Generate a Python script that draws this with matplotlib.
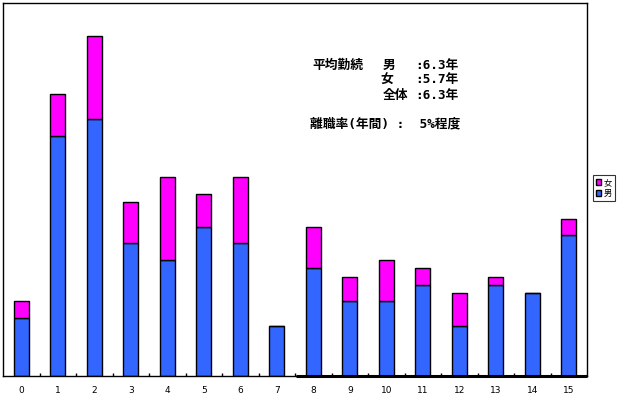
import numpy as np
import matplotlib
matplotlib.use("Agg")
import matplotlib.pyplot as plt
from matplotlib.ticker import FixedLocator

plt.rcParams['font.family'] = ['Noto Sans CJK JP', 'DejaVu Sans']

# 勤続年数ごとの人数
years = list(range(16))
male = [7, 29, 31, 16, 14, 18, 16, 6, 13, 9, 9, 11, 6, 11, 10, 17]
female = [2, 5, 10, 5, 10, 4, 8, 0, 5, 3, 5, 2, 4, 1, 0, 2]

BLUE = "#3366FF"
MAGENTA = "#FF00FF"

W, H = 621, 394
fig = plt.figure(figsize=(W / 100, H / 100), dpi=100)
ax = fig.add_axes([3 / W, (H - 376) / H, 584 / W, 373 / H])

x = np.arange(len(years))
ax.bar(x, male, width=0.4, color=BLUE, edgecolor="black", linewidth=1, label="男", zorder=2)
ax.bar(x, female, width=0.4, bottom=male, color=MAGENTA, edgecolor="black", linewidth=1,
       label="女", zorder=2)

ax.set_xlim(-0.5, len(years) - 0.5)
ax.set_ylim(0, 45)
ax.set_yticks([])
ax.set_xticks(x)
ax.set_xticklabels([str(y) for y in years], fontsize=6.5, family="DejaVu Sans")
ax.tick_params(axis="x", which="major", length=0, pad=7)
ax.xaxis.set_minor_locator(FixedLocator(x[:-1] + 0.5))
ax.tick_params(axis="x", which="minor", direction="in", length=2, width=1)

for s in ["top", "right", "left", "bottom"]:
    ax.spines[s].set_linewidth(1)
# 右半分の軸線が太く描かれている
ax.plot([0.502, 1], [0, 0], transform=ax.transAxes, color="black", lw=2.2,
        solid_capstyle="butt", clip_on=False, zorder=3)

# 注記
mono = ['DejaVu Sans Mono', 'Noto Sans CJK JP']
def ftext(px, py, s, ha="left", family=None):
    fig.text(px / W, 1 - py / H, s, ha=ha, va="center", fontsize=9.2,
             fontweight="bold", color="black", family=family)

ftext(312, 65, "平均勤続")
ftext(395, 65, "男", ha="right")
ftext(459, 65, ":6.3年", ha="right", family=mono)
ftext(393, 80, "女", ha="right")
ftext(459, 80, ":5.7年", ha="right", family=mono)
ftext(408, 95, "全体", ha="right")
ftext(459, 95, ":6.3年", ha="right", family=mono)
ftext(310, 124, "離職率(年間) :  5%程度", family=mono)

handles, labels = ax.get_legend_handles_labels()
leg = fig.legend(handles[::-1], labels[::-1], loc="center left",
                 bbox_to_anchor=(593 / W, 1 - 188 / H), fontsize=6,
                 frameon=True, fancybox=False, edgecolor="black",
                 handlelength=0.7, handleheight=0.7, handletextpad=0.3,
                 borderpad=0.3, labelspacing=0.3, borderaxespad=0)
leg.get_frame().set_linewidth(0.8)

fig.savefig("out.png", dpi=100)
